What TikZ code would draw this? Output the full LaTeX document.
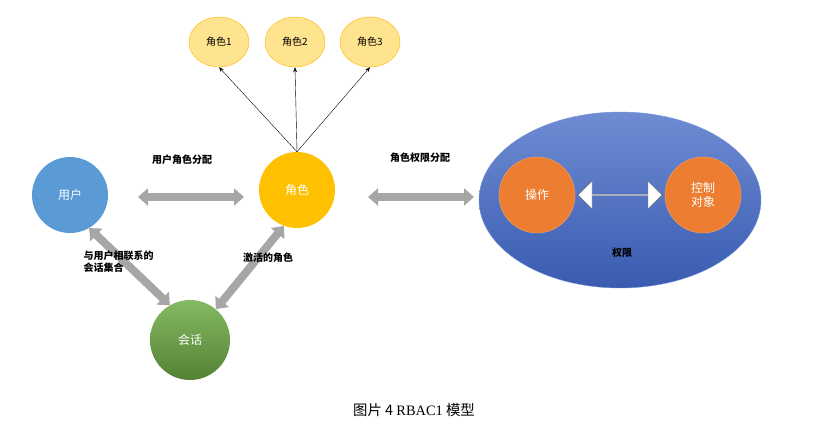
\documentclass[tikz,border=0pt]{standalone}
\usepackage{fontspec}
\setmainfont{Noto Sans CJK SC}
\usetikzlibrary{arrows.meta,shapes.geometric,shapes.arrows}
\definecolor{userblue}{HTML}{5B9BD5}
\definecolor{roleyellow}{HTML}{FFC000}
\definecolor{sessgreen}{HTML}{70AD47}
\definecolor{permblue}{HTML}{3F66C4}
\definecolor{oporange}{HTML}{ED7D31}
\definecolor{lightrole}{HTML}{FFE48F}
\definecolor{arrowgray}{HTML}{A6A6A6}
\tikzset{
  ball/.style={circle, minimum size=76pt, inner sep=0pt, text=white, font=\large},
  smallrole/.style={ellipse, minimum width=60pt, minimum height=50pt, inner sep=0pt,
    fill=lightrole, draw=orange!60!yellow},
  bigarrow/.style={arrowgray, line width=8pt, {Triangle[length=10pt,width=17pt]}-{Triangle[length=10pt,width=17pt]}},
  lbl/.style={font=\bfseries, align=left}
}
\begin{document}
\begin{tikzpicture}[x=1pt,y=-1pt]
\useasboundingbox (0,0) rectangle (829,425);
% permission area
\node[ellipse, minimum width=282pt, minimum height=176pt, top color=permblue!75!white, bottom color=permblue!90!black, draw=permblue!70!white] (perm) at (620,200) {};
\node[text=black, font=\bfseries] (permlbl) at (622,253) {权限};
\node[ball, fill=oporange, draw=oporange!70!white] (op) at (537,195) {操作};
\node[ball, fill=oporange, draw=oporange!70!white, align=center] (obj) at (703,195) {控制\\对象};
\node[double arrow, fill=white, draw=arrowgray!70!black, minimum height=84pt, minimum width=28pt,
  double arrow head extend=5pt, inner sep=0pt] (oparrow) at (620,195) {};
% main nodes
\node[ball, fill=userblue] (user) at (70,195) {用户};
\node[ball, fill=roleyellow] (role) at (297,190) {角色};
\node[ball, top color=sessgreen!85!white, bottom color=sessgreen!75!black, minimum size=80pt] (sess) at (190,340) {会话};
% roles
\node[smallrole] (r1) at (219,42) {角色1};
\node[smallrole] (r2) at (295,42) {角色2};
\node[smallrole] (r3) at (370,42) {角色3};
\foreach \r in {r1,r2,r3}
  \draw[-{Stealth[length=5pt]}, thin] (role.north) -- (\r.south);
% connectors
\coordinate (a1) at (138,197);
\coordinate (a2) at (244,197);
\coordinate (b1) at (368,197);
\coordinate (b2) at (474,197);
\draw[bigarrow] (a1) -- (a2);
\draw[bigarrow] (b1) -- (b2);
\draw[bigarrow] (user.-60) -- (sess.120);
\draw[bigarrow] (sess.50) -- (role.-110);
% labels
\node[lbl] (l1) at (182,160) {用户角色分配};
\node[lbl] (l2) at (420,158) {角色权限分配};
\node[lbl, anchor=north west] (l3) at (80,247) {与用户相联系的\\会话集合};
\node[lbl] (l4) at (268,258) {激活的角色};
\node[font=\Large] (cap) at (414,410) {图片 4 {\fontspec{Liberation Serif}RBAC1} 模型};
\end{tikzpicture}
\end{document}
